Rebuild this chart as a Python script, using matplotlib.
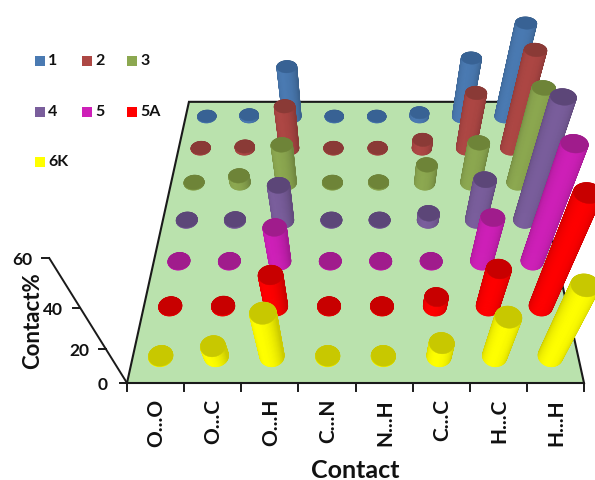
import numpy as np
import matplotlib
matplotlib.use("Agg")
import matplotlib.pyplot as plt
from matplotlib.collections import PolyCollection
from matplotlib.patches import Polygon, Rectangle

plt.rcParams['font.family'] = ['Lato', 'DejaVu Sans']

categories = ["O...O", "O...C", "O...H", "C...N", "N...H", "C...C", "H...C", "H...H"]
series_names = ["6K", "5A", "5", "4", "3", "2", "1"]   # front to back
s_6K = [0.2, 6.0, 23.9, 0.2, 0.2, 7.8, 21.9, 37.0]
s_5A = [0.2, 0.5, 16.9, 0.2, 0.2, 5.3, 19.9, 52.0]
s_5 = [0.2, 0.2, 17.4, 0.2, 0.2, 0.2, 22.0, 52.0]
s_4 = [0.3, 0.5, 17.4, 0.3, 0.3, 3.7, 20.0, 53.0]
s_3 = [0.3, 3.6, 18.4, 0.3, 0.5, 9.0, 19.3, 42.0]
s_2 = [0.3, 1.0, 20.0, 0.3, 0.3, 4.3, 25.8, 43.0]
s_1 = [0.3, 1.0, 23.3, 0.3, 0.3, 2.0, 27.0, 41.0]
values = [s_6K, s_5A, s_5, s_4, s_3, s_2, s_1]
z_ticks = [0, 20, 40, 60]

side_colors = ["#FFFF00", "#FF0000", "#CE20B8", "#7A5E9C", "#8CA850", "#AD4744", "#4A7AB2"]
top_colors = ["#C8C800", "#C80000", "#A01C8C", "#5C4678", "#6E8438", "#8A3A36", "#386294"]
floor_color = "#BAE2AD"
axis_color = "#1A1A1A"
text_color = "#111111"

# Perspective camera, in pixel space
O = np.array([127.0, 383.0])
D = np.array([457.0, 0.0])
Vy = np.array([355.5, -654.0])
Vz = np.array([355.5, 750.0])
k = 0.372
c = -0.00423
R_X = 0.0272
R_T = 0.0285
SHEAR_KEEP = 0.55


def project(X, t, z):
    X, t, z = np.broadcast_arrays(X, t, z)
    w = 1 + k * t + c * z
    px = (O[0] + X * D[0] + k * t * Vy[0] + c * z * Vz[0]) / w
    py = (O[1] + X * D[1] + k * t * Vy[1] + c * z * Vz[1]) / w
    return np.column_stack([px, py])


def ring(Xc, tc, z, phi):
    """Outline of a cylinder section, with the perspective shear softened."""
    cx = Xc + R_X * np.cos(phi)
    ct = tc + R_T * np.sin(phi)
    pts = project(cx, ct, z)
    lean = project(Xc, ct, z)[:, 0] - project(Xc, tc, z)[0, 0]
    pts[:, 0] -= (1 - SHEAR_KEEP) * lean
    return pts


def shade(color, f):
    rgb = np.array(matplotlib.colors.to_rgb(color))
    return tuple(np.clip(rgb * f, 0, 1))


fig = plt.figure(figsize=(5.95, 4.8), dpi=100)
ax = fig.add_axes([0, 0, 1, 1])
ax.set_xlim(0, 595)
ax.set_ylim(480, 0)
ax.axis("off")

# Floor
corners = project(np.array([0, 1, 1, 0.0]), np.array([0, 0, 1, 1.0]), 0.0)
ax.add_patch(Polygon(corners, closed=True, facecolor=floor_color, edgecolor=axis_color, lw=1.5, zorder=1))

# Category ticks and labels
n_cat = len(categories)
n_ser = len(series_names)
for i in range(n_cat + 1):
    p = project(i / n_cat, 0.0, 0.0)[0]
    ax.plot([p[0], p[0]], [p[1], p[1] + 8], color=axis_color, lw=1.4, zorder=2)
for i, lab in enumerate(categories):
    p = project((i + 0.5) / n_cat, 0.0, 0.0)[0]
    ax.text(p[0] + 1, 399, lab, rotation=90, ha="center", va="top", fontsize=15,
            fontweight="bold", color=text_color)

# Height axis
zz = np.array([0, z_ticks[-1]], dtype=float)
pz = project(0.0, 0.0, zz)
ax.plot(pz[:, 0], pz[:, 1], color=axis_color, lw=1.4, zorder=2)
label_dx = [-24, -27, -27, -27]
for z, dx in zip(z_ticks, label_dx):
    p = project(0.0, 0.0, float(z))[0]
    ax.plot([p[0] - 7, p[0]], [p[1], p[1]], color=axis_color, lw=1.4, zorder=2)
    ax.text(p[0] + dx, p[1] + 1.5, str(z), ha="center", va="center", fontsize=12.5,
            fontweight="bold", color=text_color)

# Cylinders, painted from back to front
phi = np.linspace(0, 2 * np.pi, 73)
zo = 3
for s in range(n_ser - 1, -1, -1):
    tc = (s + 0.5) / n_ser
    for i in range(n_cat):
        Xc = (i + 0.5) / n_cat
        h = values[s][i]
        base = ring(Xc, tc, 0.0, phi)
        top = ring(Xc, tc, h, phi)
        quads, cols, depth = [], [], []
        for j in range(len(phi) - 1):
            quads.append([base[j], base[j + 1], top[j + 1], top[j]])
            a = 0.5 * (phi[j] + phi[j + 1])
            f = 0.8 + 0.2 * max(0.0, np.cos(a + np.pi / 2 + 0.35))
            cols.append(shade(side_colors[s], f))
            depth.append(np.sin(a))
        order = np.argsort(depth)[::-1]
        quads = [quads[m] for m in order]
        cols = [cols[m] for m in order]
        ax.add_collection(PolyCollection(quads, facecolors=cols, edgecolors=cols, linewidths=0.6, zorder=zo))
        zo += 1
        ax.add_patch(Polygon(top, closed=True, facecolor=top_colors[s], edgecolor=top_colors[s], lw=0.3, zorder=zo))
        zo += 1

# Legend
legend_names = ["1", "2", "3", "4", "5", "5A", "6K"]
legend_x = [35, 82, 127]
legend_y = [56, 107, 157]
legend_tx = [48, 95, 140]
for n, name in enumerate(legend_names):
    col_i, row_i = n % 3, n // 3
    color = side_colors[series_names.index(name)]
    ax.add_patch(Rectangle((legend_x[col_i], legend_y[row_i]), 9.5, 9.5, facecolor=color, edgecolor="none", zorder=2))
    ax.text(legend_tx[col_i], legend_y[row_i] + 5, name, ha="left", va="center", fontsize=11.5,
            fontweight="bold", color=text_color)

# Axis titles
ax.text(355, 470, "Contact", ha="center", va="center", fontsize=18, fontweight="bold", color=text_color)
ax.text(33, 321, "Contact%", ha="center", va="center", rotation=90, fontsize=16, fontweight="bold",
        color=text_color)

fig.savefig("out.png", dpi=100)
